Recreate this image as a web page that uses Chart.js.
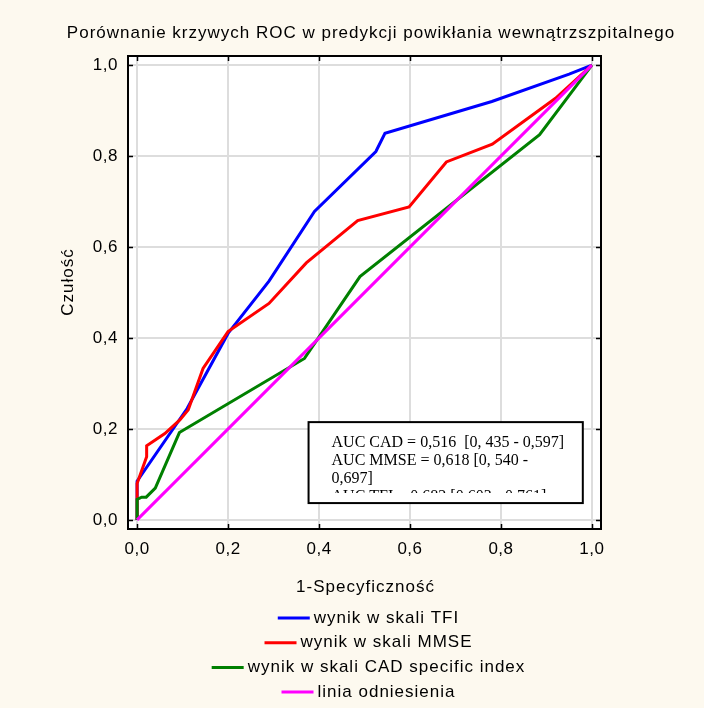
<!DOCTYPE html>
<html>
<head>
<meta charset="utf-8">
<script src="https://cdn.jsdelivr.net/npm/chart.js@4.4.1/dist/chart.umd.min.js"></script>
<style>
  html, body { margin: 0; padding: 0; background: #fdf9ef; }
  #wrap { width: 704px; height: 708px; }
</style>
</head>
<body>
<div id="wrap"><canvas id="roc" width="704" height="708"></canvas></div>
<script>
// ROC curves (1-specificity, sensitivity)
const tfiX  = [0, 0, 0.11, 0.2, 0.29, 0.39, 0.525, 0.545, 0.78, 0.95, 1];
const tfiY  = [0, 0.085, 0.245, 0.41, 0.525, 0.678, 0.81, 0.85, 0.92, 0.98, 1];
const mmseX = [0, 0, 0.021, 0.021, 0.061, 0.094, 0.1125, 0.145, 0.2, 0.29, 0.372, 0.485, 0.598, 0.68, 0.781, 0.92, 1];
const mmseY = [0, 0.08, 0.139, 0.163, 0.19, 0.22, 0.242, 0.333, 0.414, 0.476, 0.565, 0.658, 0.688, 0.787, 0.826, 0.927, 1];
const cadX  = [0, 0, 0.01, 0.02, 0.04, 0.093, 0.368, 0.49, 0.885, 1];
const cadY  = [0, 0.045, 0.05, 0.05, 0.07, 0.192, 0.355, 0.535, 0.847, 1];
const refX  = [0, 1];
const refY  = [0, 1];

const tickValues = [0, 0.2, 0.4, 0.6, 0.8, 1.0];
const seriesNames = ['wynik w skali TFI', 'wynik w skali MMSE', 'wynik w skali CAD specific index', 'linia odniesienia'];
const seriesColors = ['#0000ff', '#ff0000', '#008000', '#ff00ff'];
const aucLines = [
  'AUC CAD = 0,516  [0, 435 - 0,597]',
  'AUC MMSE = 0,618 [0, 540 -',
  '0,697]',
  'AUC TFI = 0,682 [0,603 - 0,761]'
];

const titleText = 'Porównanie krzywych ROC w predykcji powikłania wewnątrzszpitalnego';
const xTitle = '1-Specyficzność';
const yTitle = 'Czułość';

const SANS = '"Liberation Sans", Arial, sans-serif';
const SERIF = '"Liberation Serif", "Times New Roman", serif';

function pts(xs, ys) {
  return xs.map((x, i) => ({ x: x, y: ys[i] }));
}
function fmt(v) {
  return v.toFixed(1).replace('.', ',');
}

const decor = {
  id: 'decor',
  beforeDraw(chart) {
    const { ctx, chartArea: a } = chart;
    ctx.save();
    ctx.fillStyle = '#fdf9ef';
    ctx.fillRect(0, 0, chart.width, chart.height);
    ctx.fillStyle = '#ffffff';
    ctx.fillRect(a.left, a.top, a.right - a.left, a.bottom - a.top);
    ctx.restore();
    // the original tick labels are spaced a little wider
    ctx.letterSpacing = '0.5px';
  },
  afterDraw(chart) {
    const { ctx, chartArea: a } = chart;
    const xs = chart.scales.x, ys = chart.scales.y;
    ctx.save();

    // frame + inward ticks
    ctx.strokeStyle = '#000';
    ctx.lineWidth = 2;
    ctx.strokeRect(a.left, a.top, a.right - a.left, a.bottom - a.top);
    ctx.lineWidth = 1.5;
    ctx.beginPath();
    tickValues.forEach(v => {
      const px = Math.round(xs.getPixelForValue(v)) + 0.5;
      const py = Math.round(ys.getPixelForValue(v)) + 0.5;
      ctx.moveTo(px, a.bottom); ctx.lineTo(px, a.bottom - 5);
      ctx.moveTo(px, a.top); ctx.lineTo(px, a.top + 5);
      ctx.moveTo(a.left, py); ctx.lineTo(a.left + 5, py);
      ctx.moveTo(a.right, py); ctx.lineTo(a.right - 5, py);
    });
    ctx.stroke();

    // titles
    ctx.letterSpacing = '1px';
    ctx.fillStyle = '#000';
    ctx.textAlign = 'center';
    ctx.textBaseline = 'middle';
    ctx.font = '17px ' + SANS;
    ctx.fillText(titleText, 371, 33);
    ctx.fillText(xTitle, (a.left + a.right) / 2 + 1, 587);
    ctx.save();
    ctx.translate(68, 282);
    ctx.rotate(-Math.PI / 2);
    ctx.fillText(yTitle, 0, 0);
    ctx.restore();

    // AUC box
    const bx1 = xs.getPixelForValue(0.377), bx2 = xs.getPixelForValue(0.98);
    const by1 = ys.getPixelForValue(0.215), by2 = ys.getPixelForValue(0.037);
    ctx.fillStyle = '#fff';
    ctx.fillRect(bx1, by1, bx2 - bx1, by2 - by1);
    ctx.lineWidth = 2;
    ctx.strokeStyle = '#000';
    ctx.strokeRect(bx1, by1, bx2 - bx1, by2 - by1);
    ctx.save();
    ctx.beginPath();
    ctx.rect(bx1, by1, bx2 - bx1, by2 - by1 - 10);
    ctx.clip();
    ctx.letterSpacing = '0px';
    ctx.fillStyle = '#000';
    ctx.textAlign = 'left';
    ctx.textBaseline = 'alphabetic';
    ctx.font = '16px ' + SERIF;
    aucLines.forEach((t, i) => ctx.fillText(t, bx1 + 23, by1 + 25 + i * 18));
    ctx.restore();

    // legend, one centred row per series
    ctx.font = '17px ' + SANS;
    ctx.textBaseline = 'middle';
    ctx.textAlign = 'left';
    const cx = (a.left + a.right) / 2 + 4;
    chart.data.datasets.forEach((ds, i) => {
      const w = ctx.measureText(ds.label).width;
      const start = cx - (32 + 4 + w) / 2;
      const y = 618 + i * 24.7;
      ctx.strokeStyle = ds.borderColor;
      ctx.lineWidth = 3;
      ctx.beginPath();
      ctx.moveTo(start, y); ctx.lineTo(start + 32, y);
      ctx.stroke();
      ctx.fillStyle = '#000';
      ctx.fillText(ds.label, start + 36, y);
    });
    ctx.restore();
  }
};

const series = [pts(tfiX, tfiY), pts(mmseX, mmseY), pts(cadX, cadY), pts(refX, refY)];

new Chart(document.getElementById('roc'), {
  type: 'scatter',
  data: {
    datasets: series.map((d, i) => ({
      label: seriesNames[i],
      data: d,
      showLine: true,
      borderColor: seriesColors[i],
      backgroundColor: seriesColors[i],
      borderWidth: 3,
      pointRadius: 0,
      tension: 0,
      order: 3 - i
    }))
  },
  options: {
    responsive: false,
    animation: false,
    layout: { padding: { top: 56, right: 103, left: 0, bottom: 0 } },
    plugins: { legend: { display: false }, tooltip: { enabled: false }, title: { display: false } },
    scales: {
      x: {
        type: 'linear', min: -0.02, max: 1.02,
        afterFit: s => { s.height = 179; },
        border: { display: false },
        grid: { color: '#dddddd', lineWidth: 2, drawTicks: false },
        ticks: {
          stepSize: 0.2, includeBounds: false, padding: 10,
          color: '#000', font: { family: SANS, size: 17 },
          callback: v => fmt(v)
        }
      },
      y: {
        type: 'linear', min: -0.02, max: 1.02,
        afterFit: s => { s.width = 128; },
        border: { display: false },
        grid: { color: '#dddddd', lineWidth: 2, drawTicks: false },
        ticks: {
          stepSize: 0.2, includeBounds: false, padding: 10,
          color: '#000', font: { family: SANS, size: 17 },
          callback: v => fmt(v)
        }
      }
    }
  },
  plugins: [decor]
});
</script>
</body>
</html>
